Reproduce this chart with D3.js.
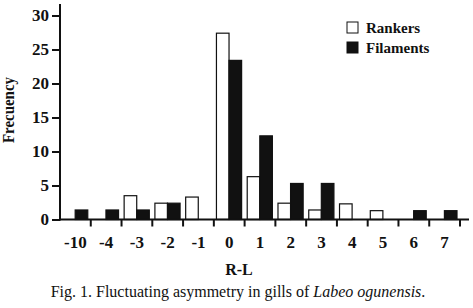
<!DOCTYPE html>
<meta charset="utf-8">
<style>
body { margin: 0; background: #fff; }
svg { display: block; }
text { font-family: 'Liberation Serif', 'Times New Roman', serif; fill: #111; }
.axis text { font-size: 17px; font-weight: bold; }
.axis path, .axis line { stroke: #111; stroke-width: 2px; }
.legend text { font-size: 15px; font-weight: bold; }
</style>
<svg width="473" height="308"></svg>
<script src="https://d3js.org/d3.v7.min.js"></script>
<script>

var categories = ["-10", "-4", "-3", "-2", "-1", "0", "1", "2", "3", "4", "5", "6", "7"];
var series = ["Rankers", "Filaments"];
var rankers = [0, 0, 3.5, 2.4, 3.3, 27.4, 6.3, 2.4, 1.4, 2.3, 1.3, 0, 0];
var filaments = [1.4, 1.4, 1.4, 2.4, 0, 23.4, 12.3, 5.3, 5.3, 0, 0, 1.3, 1.3];
var yTicks = [0, 5, 10, 15, 20, 25, 30];

var svg = d3.select("svg");

var x = d3.scaleBand().domain(categories).range([60, 460]);
var x1 = d3.scaleBand().domain(series).range([2.6, x.bandwidth() - 3]);
var y = d3.scaleLinear().domain([0, 30]).range([219.5, 15.5]);

var fills = { Rankers: "#fff", Filaments: "#111" };

var rows = categories.map(function(c, i) {
  return { cat: c, vals: [{ s: "Rankers", v: rankers[i] }, { s: "Filaments", v: filaments[i] }] };
});

var groups = svg.selectAll(".grp")
  .data(rows)
  .enter().append("g")
    .attr("class", "grp")
    .attr("transform", function(d) { return "translate(" + x(d.cat) + ",0)"; });

groups.selectAll("rect")
  .data(function(d) { return d.vals.filter(function(e) { return e.v > 0; }); })
  .enter().append("rect")
    .attr("x", function(d) { return x1(d.s); })
    .attr("width", x1.bandwidth())
    .attr("y", function(d) { return y(d.v); })
    .attr("height", function(d) { return y(0) - y(d.v); })
    .attr("fill", function(d) { return fills[d.s]; })
    .attr("stroke", "#111")
    .attr("stroke-width", 1.2);

// y axis
var yAxis = svg.append("g")
    .attr("class", "axis")
    .attr("transform", "translate(60,0)")
    .call(d3.axisLeft(y).tickValues(yTicks).tickSize(8).tickPadding(3).tickSizeOuter(0));
yAxis.select(".domain").remove();
yAxis.append("line")
    .attr("x1", 0).attr("x2", 0)
    .attr("y1", y(31.7)).attr("y2", y(0) + 1);

// x axis
var xAxis = svg.append("g")
    .attr("class", "axis")
    .attr("transform", "translate(0," + y(0) + ")")
    .call(d3.axisBottom(x).tickSize(0).tickPadding(16));
xAxis.select(".domain").remove();
xAxis.append("line")
    .attr("x1", 59).attr("x2", 469)
    .attr("y1", 0).attr("y2", 0);
xAxis.selectAll(".bound")
  .data(categories)
  .enter().append("line")
    .attr("class", "bound")
    .attr("x1", function(d) { return x(d) + x.bandwidth(); })
    .attr("x2", function(d) { return x(d) + x.bandwidth(); })
    .attr("y1", 0).attr("y2", 7);

// axis titles
svg.append("text")
    .attr("transform", "translate(14,110) rotate(-90)")
    .attr("text-anchor", "middle")
    .attr("textLength", 66)
    .attr("lengthAdjust", "spacingAndGlyphs")
    .style("font-size", "16px")
    .style("font-weight", "bold")
    .text("Frecuency");

svg.append("text")
    .attr("x", 239).attr("y", 275)
    .attr("text-anchor", "middle")
    .style("font-size", "16px")
    .style("font-weight", "bold")
    .text("R-L");

var cap = svg.append("text")
    .attr("x", 238).attr("y", 297)
    .attr("text-anchor", "middle")
    .style("font-size", "16px");
cap.append("tspan").text("Fig. 1. Fluctuating asymmetry in gills of ");
cap.append("tspan").style("font-style", "italic").text("Labeo ogunensis");
cap.append("tspan").text(".");

// legend
var legend = svg.append("g").attr("class", "legend");
var li = legend.selectAll("g")
  .data(series)
  .enter().append("g")
    .attr("transform", function(d, i) { return "translate(347," + (22 + i * 20) + ")"; });
li.append("rect")
    .attr("width", 11).attr("height", 11)
    .attr("fill", function(d) { return fills[d]; })
    .attr("stroke", "#111").attr("stroke-width", 1);
li.append("text")
    .attr("x", 19).attr("y", 10.5)
    .text(function(d) { return d; });

</script>
